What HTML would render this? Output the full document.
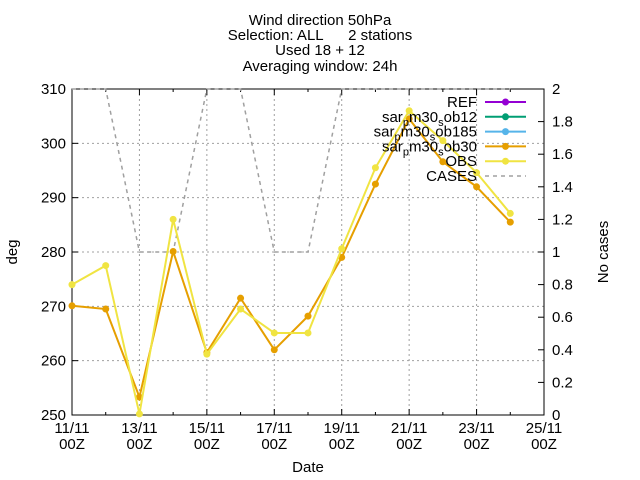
<!DOCTYPE html>
<html><head><meta charset="utf-8"><style>
html,body{margin:0;padding:0;background:#fff}
svg{display:block;font-family:"Liberation Sans",sans-serif}
</style></head><body>
<svg id="chart" width="640" height="480" viewBox="0 0 640 480" xmlns="http://www.w3.org/2000/svg">
<g font-size="15" text-anchor="middle" fill="#000">
<text x="320" y="25">Wind direction 50hPa</text>
<text x="320" y="40" style="white-space:pre">Selection: ALL      2 stations</text>
<text x="320" y="55">Used 18 + 12</text>
<text x="320" y="71">Averaging window: 24h</text>
</g>
<g id="grid"></g>
<g id="axes"></g>
<g id="series"></g>
<g id="legend"></g>
<text x="17" y="252" font-size="15" text-anchor="middle" transform="rotate(-90 17 252)">deg</text>
<text x="608" y="252" font-size="15" text-anchor="middle" transform="rotate(-90 608 252)">No cases</text>
<text x="308" y="472" font-size="15" text-anchor="middle">Date</text>
</svg>
<script>
const dayIndex=[0,1,2,3,4,5,6,7,8,9,10,11,12,13];
const sar30=[270.1,269.5,253.3,280.1,261.5,271.5,262,268.2,279,292.5,304.5,296.6,292,285.5];
const obs=[274,277.5,250.2,286,261.2,269.5,265.1,265.1,280.6,295.5,306,300.5,294.6,287.1];
const cases=[2,2,1,1,2,2,1,1,2,2,2,2,2,2];
const xTickLabels=["11/11","13/11","15/11","17/11","19/11","21/11","23/11","25/11"];
const yTicks=[250,260,270,280,290,300,310];
const y2Ticks=[0,0.2,0.4,0.6,0.8,1,1.2,1.4,1.6,1.8,2];
const legendLabels=[["REF","#9400d3"],["sar<p>m30<s>ob12","#009e73"],["sar<p>m30<s>ob185","#56b4e9"],["sar<p>m30<s>ob30","#e69f00"],["OBS","#f0e442"]];

const L=72,R=544,T=89,B=415;
const X=d=>L+(R-L)*d/14;
const Y=v=>B-(B-T)*(v-250)/60;
const Y2=v=>B-(B-T)*v/2;
const NS="http://www.w3.org/2000/svg";
function mk(tag,attrs,parent){const e=document.createElementNS(NS,tag);for(const k in attrs)e.setAttribute(k,attrs[k]);parent.appendChild(e);return e;}
const grid=document.getElementById('grid'),axes=document.getElementById('axes'),ser=document.getElementById('series'),leg=document.getElementById('legend');
xTickLabels.forEach((t,i)=>{const x=X(i*2);if(i>0&&i<7){const g=mk('line',{x1:x,x2:x,y1:T,y2:B,stroke:'#a0a0a0','stroke-dasharray':'2,3','stroke-width':1},grid);}});
yTicks.forEach(v=>{const y=Y(v);if(v>250&&v<310){const g=mk('line',{x1:L,x2:R,y1:y,y2:y,stroke:'#a0a0a0','stroke-dasharray':'2,3','stroke-width':1},grid);}});
const fr=mk('rect',{x:L,y:T,width:R-L,height:B-T,fill:'none',stroke:'#000','stroke-width':1},axes);

yTicks.forEach(v=>{const y=Y(v);mk('line',{x1:L,x2:L+6,y1:y,y2:y,stroke:'#000'},axes);
const t=mk('text',{x:L-6,y:y+5,'font-size':15,'text-anchor':'end'},axes);t.textContent=v;
});
y2Ticks.forEach(v=>{const y=Y2(v);mk('line',{x1:R-6,x2:R,y1:y,y2:y,stroke:'#000'},axes);
const t=mk('text',{x:R+8,y:y+5,'font-size':15,'text-anchor':'start'},axes);t.textContent=(Math.round(v*10)/10).toString();
});
for(let d=0;d<=14;d++){const x=X(d);const h=d%2==0?6:3;mk('line',{x1:x,x2:x,y1:B,y2:B-h,stroke:'#000'},axes);mk('line',{x1:x,x2:x,y1:T,y2:T+h,stroke:'#000'},axes);}
xTickLabels.forEach((s,i)=>{const x=X(i*2);const t=mk('text',{x:x,y:433,'font-size':15,'text-anchor':'middle'},axes);t.textContent=s;

const t2=mk('text',{x:x,y:449,'font-size':15,'text-anchor':'middle'},axes);t2.textContent="00Z";
});
const cp=mk('polyline',{points:dayIndex.map((d,i)=>X(d)+','+Y2(cases[i])).join(' '),fill:'none',stroke:'#a0a0a0','stroke-width':1.5,'stroke-dasharray':'4,4'},ser);

function line(vals,col,name){const p=mk('polyline',{points:dayIndex.map((d,i)=>X(d)+','+Y(vals[i])).join(' '),fill:'none',stroke:col,'stroke-width':2},ser);

dayIndex.forEach((d,i)=>{const c=mk('circle',{cx:X(d),cy:Y(vals[i]),r:3.5,fill:col},ser);});}
line(sar30,'#e69f00','sar30');
line(obs,'#f0e442','obs');
function lbl(s,y){const t=mk('text',{x:477,y:y+5,'font-size':15,'text-anchor':'end'},leg);

const parts=s.split(/(<[ps]>)/);let sub=false;parts.forEach(p=>{if(p=='<p>'||p=='<s>'){sub=p;return;}if(!p)return;
if(sub){const ts=mk('tspan',{'font-size':11,dy:4},t);ts.textContent=sub[1];const r=mk('tspan',{'font-size':15,dy:-4},t);r.textContent=p;sub=false;}else{const ts=mk('tspan',{},t);ts.textContent=p;}});}
legendLabels.forEach((e,i)=>{const y=102+i*14.8;lbl(e[0],y);
const l=mk('line',{x1:485,x2:526,y1:y,y2:y,stroke:e[1],'stroke-width':2},leg);
mk('circle',{cx:505.5,cy:y,r:3.5,fill:e[1]},leg);});
lbl("CASES",176);
const cl=mk('line',{x1:485,x2:526,y1:176,y2:176,stroke:'#a0a0a0','stroke-width':1.5,'stroke-dasharray':'4,4'},leg);

</script>
</body></html>
